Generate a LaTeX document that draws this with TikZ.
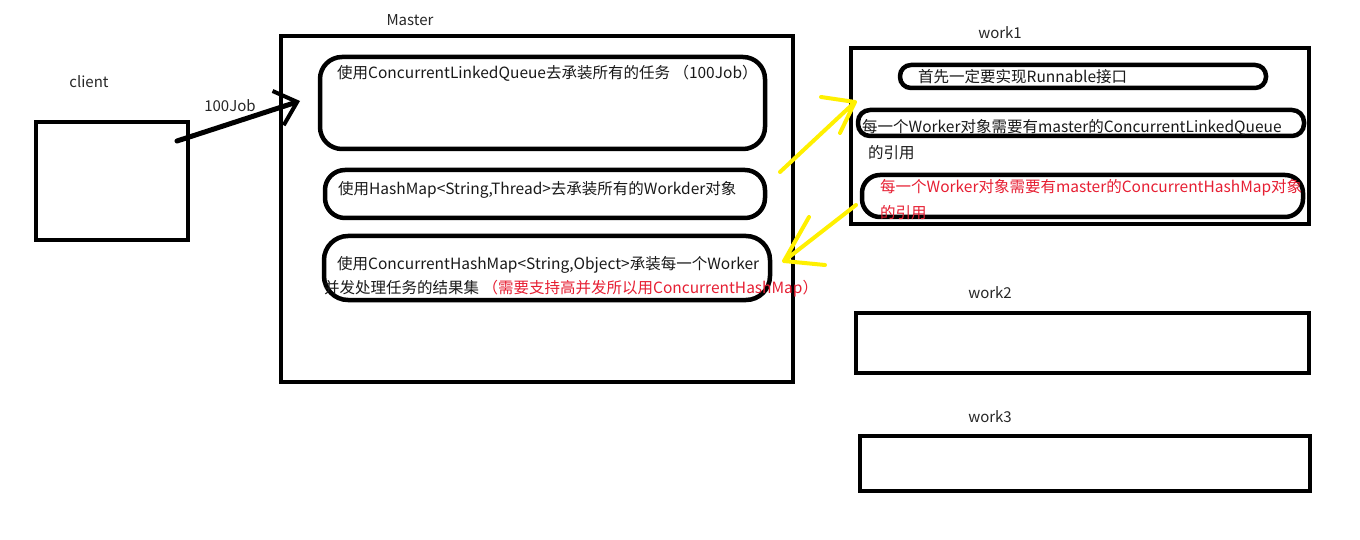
\documentclass[tikz,border=0pt]{standalone}
\usepackage{fontspec}
\setmainfont{Noto Sans CJK SC}
\usetikzlibrary{arrows.meta}
\definecolor{redtxt}{RGB}{230,30,50}
\definecolor{yel}{RGB}{255,240,0}
\tikzset{
  frame/.style={draw=black,line width=4pt,inner sep=0pt,outer sep=0pt},
  pill/.style={draw=black,line width=4.5pt,inner sep=0pt,outer sep=0pt,rounded corners=#1},
  lbl/.style={inner sep=0pt,font=\fontsize{15}{17}\selectfont,text=black!85},
  txt/.style={inner sep=0pt,anchor=west,font=\fontsize{15.5}{17}\selectfont,text=black!90},
  yarrow/.style={draw=yel,line width=4pt,line cap=round,line join=round},
}
\begin{document}
\begin{tikzpicture}[x=1pt,y=-1pt]
\useasboundingbox (0,0) rectangle (1360,540);
% client
\node[lbl] (clientlbl) at (89,82) {client};
\node[frame,minimum width=152pt,minimum height=118pt] (client) at (112,181) {};
% master
\node[lbl] (masterlbl) at (410,20) {Master};
\node[frame,minimum width=512pt,minimum height=346pt] (master) at (537,209) {};
\node[pill=22pt,minimum width=445pt,minimum height=92pt] (q) at (542.5,103) {};
\node[txt] (qt) at (337,73) {使用ConcurrentLinkedQueue去承装所有的任务 （100Job）};
\node[pill=20pt,minimum width=440pt,minimum height=48pt] (h) at (545,194) {};
\node[txt] (ht) at (338,190) {使用HashMap<String,Thread>去承装所有的Workder对象};
\node[pill=24pt,minimum width=446pt,minimum height=64pt] (c) at (547,268) {};
\node[txt] (ct1) at (337,265) {使用ConcurrentHashMap<String,Object>承装每一个Worker};
\node[txt] (ct2) at (324,289) {并发处理任务的结果集 \textcolor{redtxt}{（需要支持高并发所以用ConcurrentHashMap）}};
% client -> master arrow
\coordinate (a1) at (177,141);
\coordinate (a2) at (300,101);
\draw[line width=5pt,line cap=round,-{Straight Barb[length=20pt,width=36pt,line width=4pt]}] (a1) -- (a2);
\node[lbl] (job) at (230,106) {100Job};
% work1
\node[lbl] (w1lbl) at (1000,33) {work1};
\node[frame,minimum width=458pt,minimum height=176pt] (w1) at (1080,136) {};
\node[pill=11pt,minimum width=366pt,minimum height=23pt] (r) at (1083,76.5) {};
\node[txt] (rt) at (918,77) {首先一定要实现Runnable接口};
\node[pill=12pt,minimum width=446pt,minimum height=26pt] (lq) at (1081,123) {};
\node[txt] (lqt1) at (862,127) {每一个Worker对象需要有master的ConcurrentLinkedQueue};
\node[txt] (lqt2) at (868,153) {的引用};
\node[pill=18pt,minimum width=441pt,minimum height=42pt] (hm) at (1082.5,196) {};
\node[txt,text=redtxt] (hmt1) at (880,188) {每一个Worker对象需要有master的ConcurrentHashMap对象};
\node[txt,text=redtxt] (hmt2) at (880,213) {的引用};
% work2, work3
\node[lbl] (w2lbl) at (990,293) {work2};
\node[frame,minimum width=453pt,minimum height=60pt] (w2) at (1082.5,343) {};
\node[lbl] (w3lbl) at (990,417) {work3};
\node[frame,minimum width=450pt,minimum height=55pt] (w3) at (1085,463.5) {};
% yellow arrows
\coordinate (y1s) at (780,172);
\coordinate (y1t) at (855,102);
\coordinate (y1b1) at (821,97);
\coordinate (y1b2) at (840,133);
\draw[yarrow] (y1s) -- (y1t) (y1b1) -- (y1t) -- (y1b2);
\coordinate (y2s) at (856,205);
\coordinate (y2t) at (784,261);
\coordinate (y2b1) at (825,265);
\coordinate (y2b2) at (809,217);
\draw[yarrow] (y2s) -- (y2t) -- (y2b1) (y2t) -- (y2b2);
\end{tikzpicture}
\end{document}
